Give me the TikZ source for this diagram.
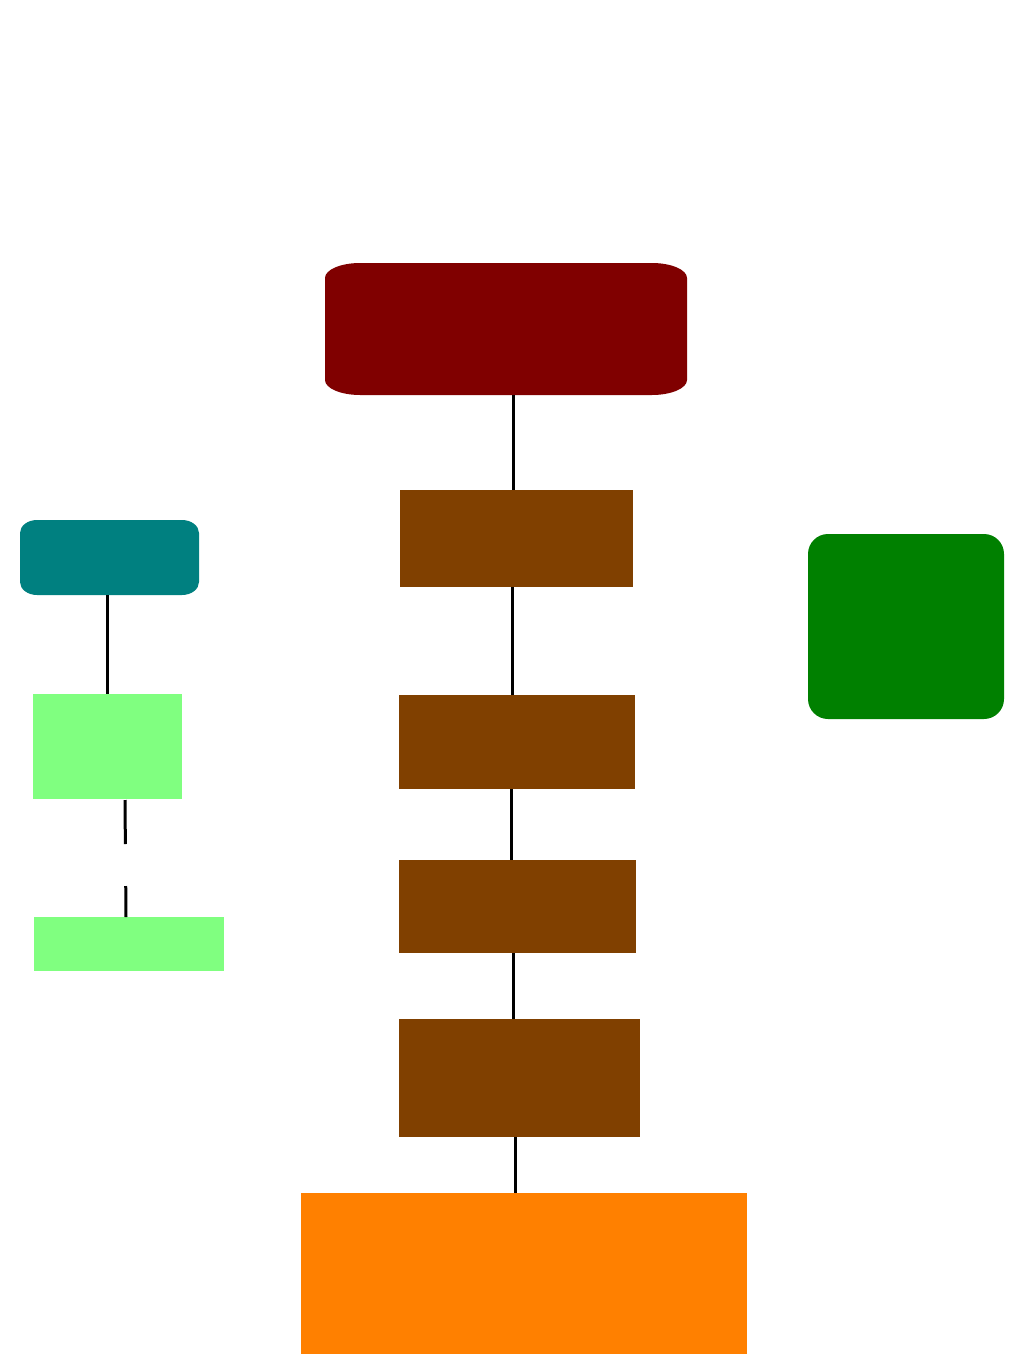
\documentclass[tikz,border=0pt]{standalone}
\definecolor{dred}{HTML}{800000}
\definecolor{brownbox}{HTML}{804000}
\definecolor{tealbox}{HTML}{008080}
\definecolor{greenbox}{HTML}{008000}
\definecolor{lgreen}{HTML}{80FF80}
\definecolor{orangebox}{HTML}{FF8000}
\tikzset{
  boxshape/.style={rectangle, inner sep=0pt, outer sep=0pt, draw=none},
  conn/.style={draw=black, line width=3pt},
}
\newcommand{\ellbox}[4]{% node, rx, ry, colour
  \fill[#4] ([xshift=#2]#1.north west) -- ([xshift=-#2]#1.north east)
    arc[start angle=90,end angle=0,x radius=#2,y radius=#3]
    -- ([yshift=#3]#1.south east)
    arc[start angle=0,end angle=-90,x radius=#2,y radius=#3]
    -- ([xshift=#2]#1.south west)
    arc[start angle=270,end angle=180,x radius=#2,y radius=#3]
    -- ([yshift=-#3]#1.north west)
    arc[start angle=180,end angle=90,x radius=#2,y radius=#3] -- cycle;}
\begin{document}
\begin{tikzpicture}[x=1pt,y=-1pt]
\useasboundingbox (0,0) rectangle (1013,1364);
\fill[white] (0,0) rectangle (1013,1364);
% nodes
\node[boxshape, minimum width=362pt, minimum height=132pt] (top) at (506,329) {};
\ellbox{top}{35pt}{15pt}{dred}
\node[boxshape, minimum width=179pt, minimum height=75pt] (teal) at (109.5,557.5) {};
\ellbox{teal}{17pt}{13pt}{tealbox}
\node[boxshape, fill=greenbox, rounded corners=20pt, minimum width=196pt, minimum height=185pt] (grn) at (906,626.5) {};
\node[boxshape, fill=lgreen, minimum width=149pt, minimum height=105pt] (lg1) at (107.5,746.5) {};
\node[boxshape, fill=lgreen, minimum width=190pt, minimum height=54pt] (lg2) at (129,944) {};
\node[boxshape, fill=brownbox, minimum width=233pt, minimum height=97pt] (b1) at (516.5,538.5) {};
\node[boxshape, fill=brownbox, minimum width=236pt, minimum height=94pt] (b2) at (517,742) {};
\node[boxshape, fill=brownbox, minimum width=237pt, minimum height=93pt] (b3) at (517.5,906.5) {};
\node[boxshape, fill=brownbox, minimum width=241pt, minimum height=118pt] (b4) at (519.5,1078) {};
\node[boxshape, fill=orangebox, minimum width=446pt, minimum height=161pt] (orn) at (524,1273.5) {};
% connectors
\draw[conn] ([xshift=7pt]top.south) -- ([xshift=7pt]top.south |- b1.north);
\draw[conn] ([xshift=-4.5pt]b1.south) -- ([xshift=-4.5pt]b1.south |- b2.north);
\draw[conn] ([xshift=-6pt]b2.south) -- ([xshift=-6pt]b2.south |- b3.north);
\draw[conn] ([xshift=-4.5pt]b3.south) -- ([xshift=-4.5pt]b3.south |- b4.north);
\draw[conn] ([xshift=-4.5pt]b4.south) -- ([xshift=-4.5pt]b4.south |- orn.north);
\draw[conn] ([xshift=-2.5pt]teal.south) -- ([xshift=-2.5pt]teal.south |- lg1.north);
\draw[conn, dash pattern=on 44pt off 42pt] ([xshift=17.5pt,yshift=-1pt]lg1.south) -- ([xshift=-3pt]lg2.north);
\end{tikzpicture}
\end{document}
